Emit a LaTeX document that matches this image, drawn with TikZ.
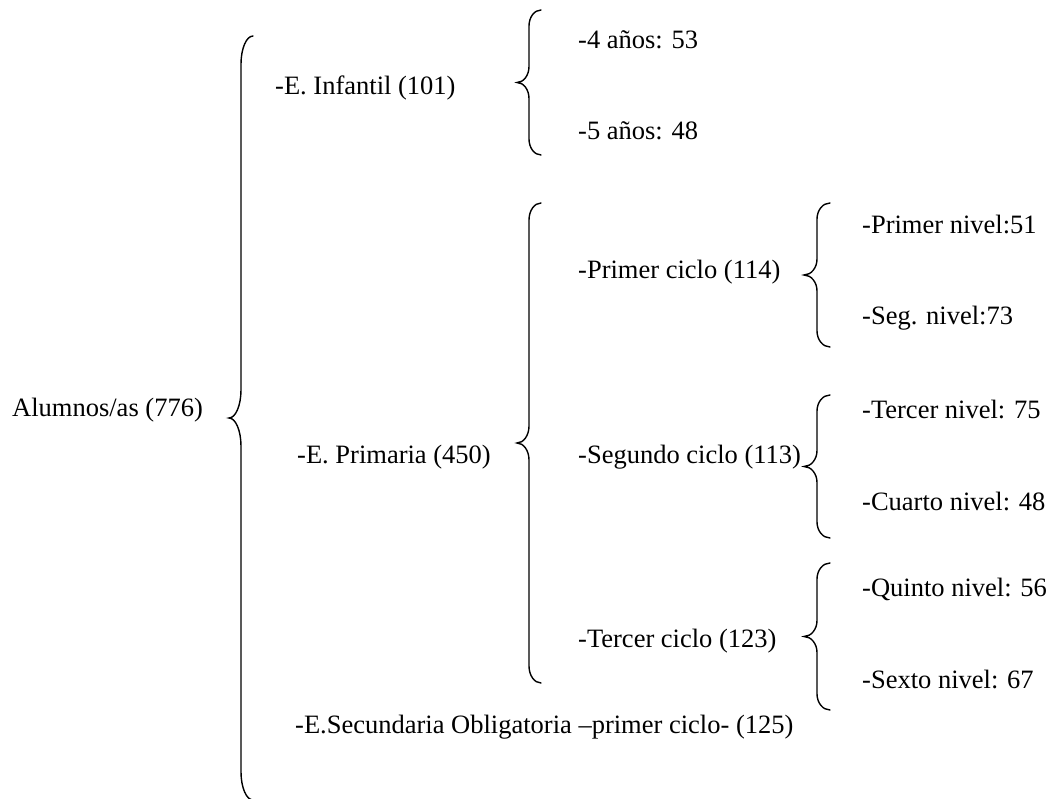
\documentclass[tikz,border=0pt]{standalone}
\usepackage{fontspec}
\setmainfont{Liberation Serif}

% left curly brace: stem x, top y, bottom y, half width, curl height
\newcommand{\llave}[5]{%
  \draw[llave] ({#1+#4},#2) .. controls ({#1+0.45*#4},#2) and (#1,{#2+0.45*#5}) .. (#1,{#2+#5})
    -- (#1,{(#2+#3)/2-#5}) .. controls (#1,{(#2+#3)/2-0.45*#5}) and ({#1-0.45*#4},{(#2+#3)/2}) .. ({#1-#4},{(#2+#3)/2})
    .. controls ({#1-0.45*#4},{(#2+#3)/2}) and (#1,{(#2+#3)/2+0.45*#5}) .. (#1,{(#2+#3)/2+#5})
    -- (#1,{#3-#5}) .. controls (#1,{#3-0.45*#5}) and ({#1+0.45*#4},#3) .. ({#1+#4},#3);
}

\begin{document}
\begin{tikzpicture}[x=1pt,y=-1pt,
    txt/.style={anchor=base west,inner sep=0pt,font=\fontsize{26.5}{30}\selectfont},
    llave/.style={line width=1.4pt,line cap=round}]
  \useasboundingbox (0,0) rectangle (1047,799);

  % Total
  \node[txt] (alumnos) at (12,417) {Alumnos/as (776)};
  \llave{241}{36}{800}{12}{28}

  % E. Infantil
  \node[txt] (infantil) at (275,95) {-E. Infantil (101)};
  \llave{529}{10}{155}{12}{16}
  \node[txt] (cuatro) at (578,49) {-4 años: 53};
  \node[txt] (cinco) at (578,140) {-5 años: 48};

  % E. Primaria
  \node[txt] (primaria) at (297,463) {-E. Primaria (450)};
  \llave{529}{203}{683}{12}{17}

  % Primer ciclo
  \node[txt] (ciclo1) at (578,279) {-Primer ciclo (114)};
  \llave{817}{203}{347}{13}{16}
  \node[txt] (nivel1) at (862,234) {-Primer nivel:51};
  \node[txt] (nivel2) at (862,325) {-Seg. nivel:73};

  % Segundo ciclo
  \node[txt] (ciclo2) at (578,463) {-Segundo ciclo (113)};
  \llave{817}{395}{538}{13}{16}
  \node[txt] (nivel3) at (862,418) {-Tercer nivel: 75};
  \node[txt] (nivel4) at (862,510) {-Cuarto nivel: 48};

  % Tercer ciclo
  \node[txt] (ciclo3) at (578,647) {-Tercer ciclo (123)};
  \llave{817}{563}{710}{13}{16}
  \node[txt] (nivel5) at (862,596) {-Quinto nivel: 56};
  \node[txt] (nivel6) at (862,688) {-Sexto nivel: 67};

  % E. Secundaria
  \node[txt] (secundaria) at (295,733) {-E.Secundaria Obligatoria –primer ciclo- (125)};
\end{tikzpicture}
\end{document}
